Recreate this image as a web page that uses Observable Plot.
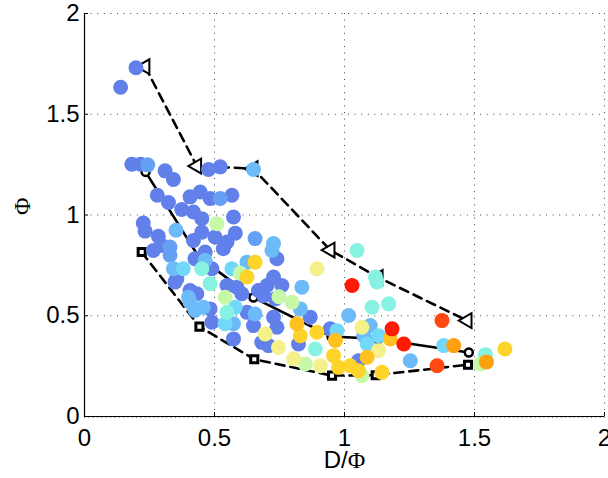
<!DOCTYPE html>
<html><head><meta charset="utf-8">
<script src="https://cdn.jsdelivr.net/npm/d3@7"></script>
<script src="https://cdn.jsdelivr.net/npm/@observablehq/plot@0.6"></script>
<style>body{margin:0;background:#fff;}</style>
</head><body><div id="chart"></div>
<script>
const xTicks = [0, 0.5, 1, 1.5, 2];
const yTicks = [0, 0.5, 1, 1.5, 2];
const xLabel = "D/Φ";
const yLabel = "Φ";

// scatter points: x = D/Φ, y = Φ, v = colour variable (0..1)
const dotX = [0.198,0.139,0.182,0.216,0.243,0.310,0.342,0.477,0.522,0.650,
  0.280,0.323,0.374,0.406,0.445,0.483,0.522,0.567,0.419,0.451,
  0.573,0.509,0.226,0.233,0.352,0.284,0.297,0.329,0.265,0.419,
  0.451,0.502,0.548,0.580,0.534,0.656,0.727,0.721,0.329,0.464,
  0.425,0.464,0.490,0.342,0.380,0.355,0.451,0.567,0.599,0.656,
  0.625,0.625,0.740,0.727,0.483,0.548,0.586,0.669,0.748,0.541,
  0.406,0.432,0.400,0.348,0.406,0.425,0.457,0.483,0.490,0.548,
  0.541,0.580,0.573,0.573,0.605,0.625,0.656,0.688,0.734,0.650,
  0.695,0.682,0.708,0.746,0.727,0.740,0.759,0.894,0.836,1.048,
  1.029,1.119,1.125,0.798,1.170,0.830,0.868,0.702,0.817,0.830,
  0.894,0.945,0.971,0.965,0.888,0.823,0.804,0.849,0.907,0.958,
  0.977,1.016,1.067,1.099,1.106,1.074,1.087,1.131,1.183,1.176,
  1.131,1.087,1.054,1.022,1.054,1.067,1.144,1.228,1.253,1.375,
  1.356,1.382,1.420,1.542,1.523,1.546,1.617];
const dotY = [1.731,1.634,1.252,1.252,1.249,1.219,1.176,1.226,1.239,1.226,
  1.098,1.062,1.027,1.090,1.114,1.082,1.082,1.098,1.015,0.982,
  0.990,0.957,0.960,0.920,0.924,0.894,0.849,0.841,0.824,0.874,
  0.915,0.891,0.866,0.910,0.833,0.883,0.858,0.824,0.800,0.816,
  0.783,0.775,0.733,0.733,0.733,0.684,0.733,0.733,0.711,0.766,
  0.692,0.766,0.783,0.692,0.659,0.650,0.642,0.625,0.594,0.592,
  0.625,0.609,0.592,0.667,0.567,0.526,0.542,0.534,0.468,0.517,
  0.460,0.542,0.460,0.385,0.609,0.517,0.509,0.600,0.584,0.451,
  0.410,0.368,0.352,0.343,0.493,0.443,0.650,0.733,0.642,0.824,
  0.650,0.692,0.667,0.567,0.559,0.534,0.493,0.650,0.460,0.401,
  0.418,0.435,0.426,0.377,0.335,0.360,0.286,0.261,0.252,0.302,
  0.244,0.501,0.443,0.451,0.542,0.401,0.360,0.401,0.435,0.385,
  0.327,0.294,0.277,0.252,0.227,0.203,0.219,0.360,0.277,0.476,
  0.252,0.352,0.352,0.307,0.261,0.271,0.335];
const dotV = [0.1,0.1,0.1,0.1,0.22,0.1,0.1,0.1,0.1,0.3,
  0.1,0.1,0.1,0.1,0.1,0.1,0.22,0.1,0.1,0.1,
  0.1,0.5,0.1,0.1,0.3,0.1,0.1,0.22,0.1,0.1,
  0.1,0.1,0.1,0.1,0.1,0.22,0.3,0.3,0.22,0.1,
  0.1,0.3,0.1,0.3,0.36,0.1,0.42,0.36,0.5,0.68,
  0.68,0.3,0.1,0.1,0.42,0.1,0.1,0.1,0.5,0.5,
  0.1,0.1,0.3,0.1,0.3,0.3,0.3,0.1,0.1,0.42,
  0.36,0.36,0.3,0.1,0.1,0.1,0.3,0.1,0.1,0.1,
  0.58,0.1,0.1,0.58,0.1,0.1,0.1,0.58,0.3,0.42,
  1.0,0.42,0.42,0.5,0.42,0.3,0.1,0.1,0.74,0.68,
  0.68,0.1,0.36,0.74,0.42,0.1,0.58,0.5,0.58,0.68,
  0.68,0.3,0.58,0.3,0.42,0.3,0.36,0.36,1.0,0.74,
  0.58,0.74,0.1,0.68,0.68,0.5,0.68,1.0,0.3,0.9,
  0.9,0.36,0.8,0.42,0.5,0.8,0.68];

// reference curves
const triX = [0.233,0.432,0.649,0.945,1.13,1.472];
const triY = [1.736,1.243,1.23,0.826,0.69,0.476];
const circX = [0.235,0.44,0.65,0.95,1.13,1.478];
const circY = [1.214,0.791,0.59,0.397,0.385,0.318];
const sqX = [0.22,0.442,0.653,0.952,1.12,1.475];
const sqY = [0.816,0.446,0.284,0.203,0.205,0.257];

const colorDomain = [0.1,0.22,0.3,0.36,0.42,0.5,0.58,0.68,0.74,0.8,0.9,1.0];
const colorRange = ["#6180ea","#66a0f4","#6cbaf8","#72d8fa","#88f2e2","#c6f8a8","#f4f08a","#ffd42a","#ffc020","#ffa010","#ff4812","#ff1a06"];

const dots = d3.sort(dotX.map((x, i) => ({x, y: dotY[i], v: dotV[i]})), d => d.v);
const tri = triX.map((x, i) => ({x, y: triY[i]}));
const circ = circX.map((x, i) => ({x, y: circY[i]}));
const sq = sqX.map((x, i) => ({x, y: sqY[i]}));
const minorX = d3.range(0, 121).map(i => i / 60);

const gridStyle = {stroke: "#444", strokeOpacity: 1, strokeWidth: 1, strokeDasharray: "1,5.6"};

const chart = Plot.plot({
  width: 608, height: 478,
  marginLeft: 84, marginRight: 4, marginTop: 13, marginBottom: 62,
  style: {fontFamily: "'Liberation Sans', Arial, sans-serif", fontSize: "24px", background: "#fff", color: "#000"},
  x: {domain: [0, 2]},
  y: {domain: [0, 2]},
  color: {type: "linear", domain: colorDomain, range: colorRange, interpolate: "rgb"},
  marks: [
    Plot.gridX(xTicks.slice(1), gridStyle),
    Plot.gridY(yTicks.slice(1), gridStyle),
    Plot.axisX(minorX, {tickSize: 2, tickFormat: () => "", stroke: "#888", label: null}),
    Plot.axisX(xTicks, {tickSize: -4, tickFormat: () => "", label: null}),
    Plot.axisY(yTicks, {tickSize: -4, tickFormat: () => "", label: null}),
    Plot.axisX(xTicks, {tickSize: 0, tickPadding: 12, tickFormat: d => String(d), label: null, fontSize: 24}),
    Plot.axisY(yTicks, {tickSize: 0, tickPadding: 5, tickFormat: d => String(d), label: null, fontSize: 24}),
    Plot.ruleX([0], {stroke: "#000", strokeWidth: 1.2}),
    Plot.ruleY([0], {stroke: "#000", strokeWidth: 1.2}),
    Plot.line(tri, {x: "x", y: "y", stroke: "#000", strokeWidth: 2.6, strokeDasharray: "9,6"}),
    Plot.line(circ, {x: "x", y: "y", stroke: "#000", strokeWidth: 2.6}),
    Plot.line(sq, {x: "x", y: "y", stroke: "#000", strokeWidth: 2.6, strokeDasharray: "9,6"}),
    Plot.dot(tri, {x: "x", y: "y", symbol: "triangle", r: 5.5, rotate: -90, stroke: "#000", strokeWidth: 2, fill: "#fff"}),
    Plot.dot(circ, {x: "x", y: "y", symbol: "circle", r: 4, stroke: "#000", strokeWidth: 2.5, fill: "#fff"}),
    Plot.dot(sq, {x: "x", y: "y", symbol: "square", r: 4, stroke: "#000", strokeWidth: 3, fill: "#fff"}),
    Plot.dot(dots, {x: "x", y: "y", fill: "v", r: 7.5}),
    Plot.text([xLabel], {text: d => d, frameAnchor: "bottom", dy: 51, fontSize: 24}),
    Plot.text([yLabel], {text: d => d, frameAnchor: "left", dx: -62, rotate: -90, fontSize: 24, fontFamily: "'Liberation Serif', serif"})
  ]
});

// Φ in serif inside the x label
d3.select(chart).selectAll("text").filter(function() { return this.textContent === xLabel; })
  .each(function() {
    const t = d3.select(this);
    t.text(null);
    t.append("tspan").text("D/");
    t.append("tspan").attr("font-family", "'Liberation Serif', serif").text("Φ");
  });

document.getElementById("chart").appendChild(chart);
</script>
</body></html>
